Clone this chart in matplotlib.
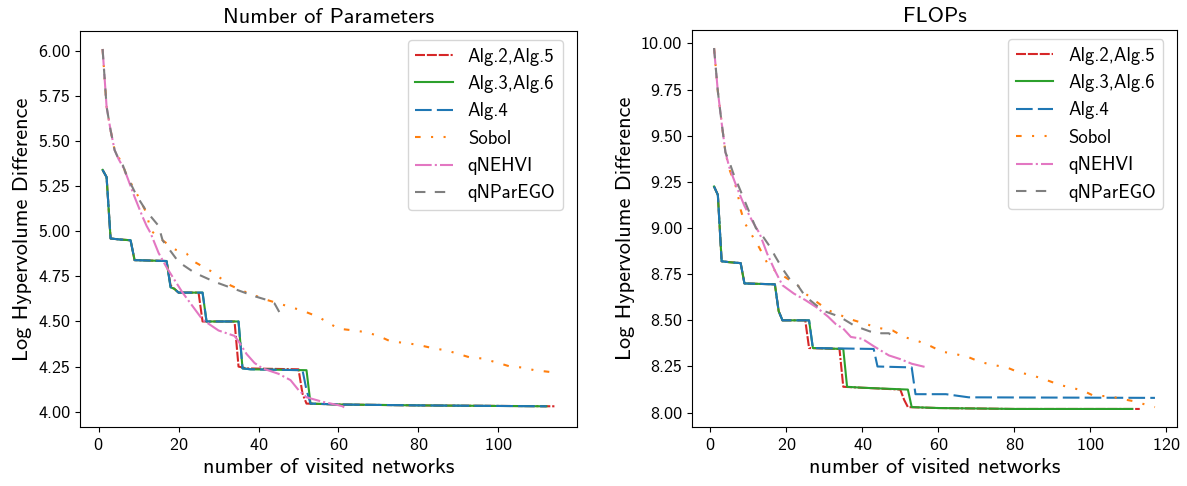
import matplotlib
matplotlib.use("Agg")
import matplotlib.pyplot as plt

plt.rcParams["font.family"] = ["cmss10", "DejaVu Sans"]
plt.rcParams["axes.unicode_minus"] = False
plt.rcParams["axes.formatter.use_mathtext"] = True

# ---------------- Number of Parameters ----------------
params_alg25_x = [1, 2, 3, 5, 8, 9, 17, 18, 19, 20, 25, 26, 34, 35, 37, 50, 51, 52, 60, 80, 114]
params_alg25_y = [5.34, 5.30, 4.96, 4.955, 4.95, 4.84, 4.835, 4.70, 4.68, 4.66, 4.66, 4.50, 4.50, 4.25, 4.24,
                  4.235, 4.10, 4.045, 4.04, 4.035, 4.03]

params_alg36_x = [1, 2, 3, 5, 8, 9, 17, 18, 19, 20, 26, 27, 35, 36, 38, 52, 53, 60, 80, 112]
params_alg36_y = [5.34, 5.30, 4.96, 4.955, 4.95, 4.84, 4.835, 4.69, 4.68, 4.66, 4.66, 4.50, 4.50, 4.24, 4.235,
                  4.23, 4.045, 4.04, 4.035, 4.03]

params_alg4_x = [1, 2, 3, 5, 8, 9, 17, 18, 19, 20, 26, 27, 35, 36, 38, 51, 52, 53, 60, 80, 112]
params_alg4_y = [5.34, 5.30, 4.96, 4.955, 4.95, 4.84, 4.835, 4.69, 4.68, 4.66, 4.66, 4.50, 4.50, 4.24, 4.235,
                 4.23, 4.12, 4.045, 4.04, 4.035, 4.03]

params_sobol_x = [1, 2, 3, 4, 6, 7, 10, 12, 13, 16, 19, 22, 24, 28, 33, 36, 42, 45, 48, 51, 55, 60, 64, 67,
                  70, 73, 77, 80, 84, 87, 90, 93, 96, 100, 103, 106, 109, 113, 114]
params_sobol_y = [6.01, 5.69, 5.56, 5.45, 5.37, 5.31, 5.19, 5.10, 5.005, 4.95, 4.90, 4.876, 4.83, 4.78, 4.70,
                  4.67, 4.62, 4.60, 4.58, 4.56, 4.525, 4.46, 4.45, 4.44, 4.42, 4.39, 4.38, 4.37, 4.35, 4.34,
                  4.32, 4.30, 4.295, 4.27, 4.25, 4.245, 4.23, 4.22, 4.22]

params_qnehvi_x = [1, 2, 3, 4, 5, 6, 7, 9, 11, 12, 13, 15, 17, 19, 21, 24, 26, 30, 34, 35, 37, 39, 41, 45,
                   48, 50, 52, 56, 60, 61, 62]
params_qnehvi_y = [6.01, 5.69, 5.56, 5.45, 5.40, 5.36, 5.31, 5.19, 5.08, 5.03, 4.99, 4.88, 4.80, 4.73, 4.66,
                   4.57, 4.51, 4.45, 4.42, 4.39, 4.32, 4.27, 4.24, 4.21, 4.175, 4.12, 4.08, 4.055, 4.036,
                   4.03, 4.015]

params_qnparego_x = [1, 2, 3, 4, 5, 6, 7, 9, 10, 12, 15, 16, 18, 20, 24, 29, 34, 39, 42, 44, 45, 46]
params_qnparego_y = [6.01, 5.69, 5.56, 5.45, 5.40, 5.37, 5.31, 5.22, 5.18, 5.11, 5.03, 4.95, 4.89, 4.83,
                     4.77, 4.72, 4.68, 4.64, 4.62, 4.60, 4.56, 4.52]

# ---------------- FLOPs ----------------
flops_alg25_x = [1, 2, 3, 5, 8, 9, 17, 18, 19, 25, 26, 34, 35, 40, 50, 51, 52, 60, 80, 113]
flops_alg25_y = [9.225, 9.18, 8.82, 8.815, 8.81, 8.70, 8.695, 8.55, 8.50, 8.50, 8.35, 8.345, 8.14, 8.135,
                 8.125, 8.07, 8.03, 8.025, 8.02, 8.02]

flops_alg36_x = [1, 2, 3, 5, 8, 9, 17, 18, 19, 26, 27, 35, 36, 40, 52, 53, 60, 80, 111]
flops_alg36_y = [9.225, 9.18, 8.82, 8.815, 8.81, 8.70, 8.695, 8.55, 8.50, 8.50, 8.35, 8.345, 8.14, 8.135,
                 8.125, 8.03, 8.025, 8.02, 8.02]

flops_alg4_x = [1, 2, 3, 5, 8, 9, 17, 18, 19, 26, 27, 43, 44, 53, 54, 62, 68, 117]
flops_alg4_y = [9.225, 9.18, 8.82, 8.815, 8.81, 8.70, 8.695, 8.55, 8.50, 8.50, 8.35, 8.345, 8.25, 8.245,
                8.10, 8.10, 8.083, 8.08]

flops_sobol_x = [1, 2, 3, 4, 5, 7, 8, 9, 11, 13, 15, 17, 20, 23, 25, 28, 31, 34, 37, 41, 44, 48, 51, 55,
                 58, 61, 64, 68, 71, 74, 78, 81, 85, 88, 92, 95, 98, 101, 105, 108, 112, 115, 117]
flops_sobol_y = [9.975, 9.74, 9.57, 9.41, 9.32, 9.21, 9.10, 9.03, 8.96, 8.89, 8.81, 8.77, 8.73, 8.69, 8.645,
                 8.60, 8.555, 8.53, 8.505, 8.48, 8.46, 8.445, 8.41, 8.385, 8.36, 8.33, 8.32, 8.30, 8.275,
                 8.26, 8.245, 8.22, 8.20, 8.18, 8.15, 8.135, 8.12, 8.09, 8.09, 8.075, 8.06, 8.04, 8.03]

flops_qnehvi_x = [1, 2, 3, 4, 5, 7, 9, 11, 13, 15, 17, 19, 22, 25, 28, 31, 33, 35, 37, 40, 43, 47, 50, 53,
                  56, 57]
flops_qnehvi_y = [9.975, 9.74, 9.57, 9.41, 9.33, 9.22, 9.12, 9.04, 8.97, 8.86, 8.77, 8.69, 8.645, 8.61,
                  8.57, 8.52, 8.48, 8.455, 8.41, 8.40, 8.36, 8.31, 8.29, 8.265, 8.25, 8.245]

flops_qnparego_x = [1, 2, 3, 4, 5, 6, 8, 10, 12, 14, 16, 17, 19, 21, 23, 25, 28, 30, 34, 38, 42, 45, 47, 48]
flops_qnparego_y = [9.975, 9.74, 9.57, 9.41, 9.36, 9.30, 9.20, 9.10, 9.00, 8.95, 8.89, 8.85, 8.78, 8.72,
                    8.69, 8.63, 8.58, 8.55, 8.52, 8.47, 8.44, 8.43, 8.43, 8.41]

labels = ["Alg.2,Alg.5", "Alg.3,Alg.6", "Alg.4", "Sobol", "qNEHVI", "qNParEGO"]
colors = ["#d62728", "#2ca02c", "#1f77b4", "#ff7f0e", "#e377c2", "#7f7f7f"]
styles = [(0, (4.8, 0.9, 4.8, 0.9, 4.8, 0.9, 1, 0.9)),
          "-",
          (0, (8, 2.5)),
          (0, (2.7, 5, 1, 5, 1, 5)),
          (0, (8, 1.5, 1, 1.5)),
          (0, (5, 4.5))]

panels = [
    ("Number of Parameters",
     [(params_alg25_x, params_alg25_y), (params_alg36_x, params_alg36_y), (params_alg4_x, params_alg4_y),
      (params_sobol_x, params_sobol_y), (params_qnehvi_x, params_qnehvi_y),
      (params_qnparego_x, params_qnparego_y)],
     [4.00, 4.25, 4.50, 4.75, 5.00, 5.25, 5.50, 5.75, 6.00],
     [0, 20, 40, 60, 80, 100]),
    ("FLOPs",
     [(flops_alg25_x, flops_alg25_y), (flops_alg36_x, flops_alg36_y), (flops_alg4_x, flops_alg4_y),
      (flops_sobol_x, flops_sobol_y), (flops_qnehvi_x, flops_qnehvi_y),
      (flops_qnparego_x, flops_qnparego_y)],
     [8.00, 8.25, 8.50, 8.75, 9.00, 9.25, 9.50, 9.75, 10.00],
     [0, 20, 40, 60, 80, 100, 120]),
]

fig = plt.figure(figsize=(11.87, 4.86), dpi=100)
rects = [[80 / 1187, 59 / 486, 497 / 1187, 396 / 486],
         [692 / 1187, 59 / 486, 485 / 1187, 397 / 486]]

for rect, (title, series, yticks, xticks) in zip(rects, panels):
    ax = fig.add_axes(rect)
    for (xs, ys), lab, c, ls in zip(series, labels, colors, styles):
        ax.plot(xs, ys, color=c, linestyle=ls, linewidth=1.5, label=lab)
    ax.set_yticks(yticks)
    ax.set_yticklabels([f"{v:.2f}" for v in yticks])
    ax.set_xticks(xticks)
    ax.tick_params(labelsize=13)
    ax.set_title(title, fontsize=16)
    ax.set_xlabel("number of visited networks", fontsize=16)
    ax.set_ylabel("Log Hypervolume Difference", fontsize=16)
    ax.legend(loc="upper right", bbox_to_anchor=(0.972, 0.977), borderaxespad=0, fontsize=13.5)

fig.savefig("out.png", dpi=100)
